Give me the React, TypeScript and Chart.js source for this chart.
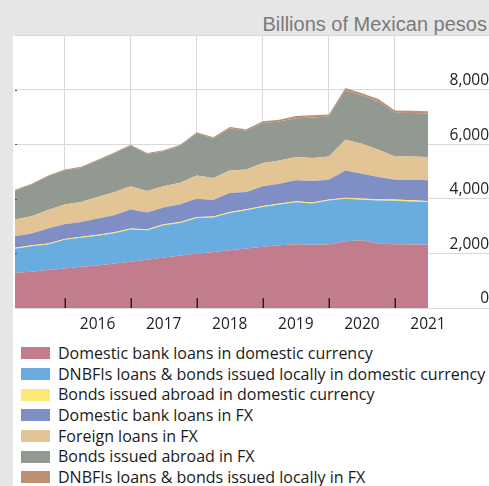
import React, { useEffect, useRef } from 'react';
import { Chart, registerables } from 'chart.js';

Chart.register(...registerables);

// Quarterly observations, 2015Q1 – 2021Q2
const quarters = [
  '2015Q1', '2015Q2', '2015Q3', '2015Q4',
  '2016Q1', '2016Q2', '2016Q3', '2016Q4',
  '2017Q1', '2017Q2', '2017Q3', '2017Q4',
  '2018Q1', '2018Q2', '2018Q3', '2018Q4',
  '2019Q1', '2019Q2', '2019Q3', '2019Q4',
  '2020Q1', '2020Q2', '2020Q3', '2020Q4',
  '2021Q1', '2021Q2',
];
const yearLabels = ['2016', '2017', '2018', '2019', '2020', '2021'];
const yTickValues = [0, 2000, 4000, 6000, 8000, 10000];

const seriesNames = [
  'Domestic bank loans in domestic currency',
  'DNBFIs loans & bonds issued locally in domestic currency',
  'Bonds issued abroad in domestic currency',
  'Domestic bank loans in FX',
  'Foreign loans in FX',
  'Bonds issued abroad in FX',
  'DNBFIs loans & bonds issued locally in FX',
];
const seriesColors = ['#c17d8c', '#68ace0', '#ffe873', '#808ec6', '#e3c494', '#929991', '#be8f70'];

// Billions of Mexican pesos
const domesticBankLoansMXN = [1290, 1327, 1388, 1449, 1510, 1559, 1632, 1693, 1770, 1850, 1920, 1990, 2050, 2119, 2180, 2240, 2301, 2338, 2313, 2326, 2448, 2484, 2363, 2338, 2326, 2326];
const dnbfiLocalMXN = [879, 939, 940, 1048, 1061, 1085, 1109, 1182, 1081, 1183, 1198, 1311, 1265, 1364, 1402, 1463, 1488, 1536, 1512, 1609, 1555, 1483, 1579, 1592, 1579, 1554];
const bondsAbroadMXN = [35, 35, 35, 35, 35, 35, 35, 35, 35, 35, 35, 35, 35, 35, 35, 35, 35, 35, 35, 35, 40, 40, 40, 40, 40, 40];
const domesticBankLoansFX = [426, 426, 547, 536, 547, 597, 621, 694, 608, 609, 647, 670, 610, 695, 633, 719, 730, 767, 791, 730, 998, 913, 815, 730, 755, 756];
const foreignLoansFX = [610, 634, 680, 722, 727, 791, 843, 853, 791, 780, 791, 852, 800, 828, 820, 852, 852, 851, 841, 853, 1121, 1096, 1000, 853, 853, 851];
const bondsAbroadFX = [1065, 1164, 1240, 1250, 1260, 1333, 1430, 1493, 1355, 1283, 1349, 1542, 1450, 1539, 1420, 1471, 1424, 1423, 1488, 1461, 1802, 1764, 1773, 1597, 1587, 1598];
const dnbfiLocalFX = [30, 29, 28, 30, 30, 30, 30, 30, 34, 35, 40, 41, 48, 50, 60, 63, 70, 80, 80, 70, 98, 86, 90, 83, 85, 85];

const seriesValues = [
  domesticBankLoansMXN,
  dnbfiLocalMXN,
  bondsAbroadMXN,
  domesticBankLoansFX,
  foreignLoansFX,
  bondsAbroadFX,
  dnbfiLocalFX,
];

const GRID = '#d9d9d9';
const FONT = "'Open Sans', 'Noto Sans', sans-serif";

const innerTicks = {
  id: 'innerTicks',
  afterDatasetsDraw(chart: any) {
    const { ctx, chartArea, scales } = chart;
    const xs = scales.x;
    ctx.save();
    ctx.strokeStyle = '#222';
    ctx.lineWidth = 1.5;
    quarters.forEach((q, i) => {
      if (q.endsWith('Q4')) {
        const px = Math.round(xs.getPixelForValue(i)) + 0.25;
        ctx.beginPath();
        ctx.moveTo(px, chartArea.bottom - 10);
        ctx.lineTo(px, chartArea.bottom);
        ctx.stroke();
      }
    });
    const ys = scales.y;
    ctx.strokeStyle = '#555';
    ctx.lineWidth = 1;
    yTickValues.forEach((v) => {
      if (v === 0 || v === 10000) return;
      const py = Math.round(ys.getPixelForValue(v)) + 0.5;
      ctx.beginPath();
      ctx.moveTo(chartArea.left, py);
      ctx.lineTo(chartArea.left + 2, py);
      ctx.stroke();
    });
    ctx.restore();
  },
};

export default function App() {
  const canvasRef = useRef<HTMLCanvasElement | null>(null);

  useEffect(() => {
    if (!canvasRef.current) return;
    const chart = new Chart(canvasRef.current, {
      type: 'line',
      data: {
        labels: quarters,
        datasets: seriesNames.map((name, i) => ({
          label: name,
          data: seriesValues[i],
          backgroundColor: seriesColors[i],
          borderColor: seriesColors[i],
          borderWidth: 0,
          pointRadius: 0,
          tension: 0,
          fill: i === 0 ? 'origin' : '-1',
        })),
      },
      options: {
        animation: false,
        responsive: false,
        devicePixelRatio: 1,
        layout: { padding: 0 },
        plugins: {
          legend: { display: false },
          tooltip: { enabled: false },
        },
        scales: {
          x: {
            type: 'category',
            offset: false,
            border: { display: false },
            grid: {
              drawTicks: false,
              color: (ctx: any) => (quarters[ctx.index] && quarters[ctx.index].endsWith('Q4') ? GRID : 'rgba(0,0,0,0)'),
            },
            ticks: {
              autoSkip: false,
              maxRotation: 0,
              padding: 7,
              color: '#222',
              font: { family: FONT, size: 15.5 },
              callback: (_v: any, index: number) => {
                const q = quarters[index];
                if (!q || !q.endsWith('Q2')) return '';
                const y = q.slice(0, 4);
                return yearLabels.includes(y) ? y : '';
              },
            },
            afterFit: (scale: any) => {
              scale.height = 30;
            },
          },
          y: {
            position: 'right',
            stacked: true,
            min: 0,
            max: 10000,
            border: { display: false },
            afterBuildTicks: (scale: any) => {
              scale.ticks = yTickValues.map((v) => ({ value: v }));
            },
            grid: {
              color: GRID,
              drawTicks: true,
              tickLength: 61,
              tickColor: GRID,
            },
            ticks: {
              crossAlign: 'far',
              padding: -41,
              labelOffset: -9,
              color: '#222',
              font: { family: FONT, size: 15.5 },
              callback: (v: any) => (v === 10000 ? '' : Number(v).toLocaleString('en-US')),
            },
            afterFit: (scale: any) => {
              scale.width = 61;
            },
          },
        },
      },
      plugins: [innerTicks],
    });
    return () => chart.destroy();
  }, []);

  return (
    <div
      style={{
        position: 'fixed',
        left: 0,
        top: 0,
        width: 489,
        height: 486,
        background: '#e6e6e6',
        overflow: 'hidden',
      }}
    >
      <div
        style={{
          position: 'absolute',
          right: 2,
          top: 14,
          lineHeight: '20px',
          fontFamily: "'Liberation Sans', Arial, sans-serif",
          fontSize: 20,
          color: '#7a7a7a',
          whiteSpace: 'nowrap',
        }}
      >
        Billions of Mexican pesos
      </div>
      <div
        style={{
          position: 'absolute',
          left: 13,
          top: 35,
          width: 476,
          height: 451,
          background: '#ffffff',
        }}
      />
      <canvas
        ref={canvasRef}
        width={481}
        height={303}
        style={{ position: 'absolute', left: 8, top: 35, display: 'block', width: 481, height: 303 }}
      />
      <div style={{ position: 'absolute', left: 21, top: 343 }}>
        {seriesNames.map((name, i) => (
          <div
            key={name}
            style={{
              display: 'flex',
              alignItems: 'center',
              height: 20.7,
              whiteSpace: 'nowrap',
            }}
          >
            <span
              style={{
                display: 'inline-block',
                width: 29,
                height: 12,
                background: seriesColors[i],
                marginRight: 8,
                flex: '0 0 auto',
              }}
            />
            <span
              style={{
                fontFamily: FONT,
                fontSize: 16,
                lineHeight: '20.7px',
                color: '#1a1a1a',
              }}
            >
              {name}
            </span>
          </div>
        ))}
      </div>
    </div>
  );
}
